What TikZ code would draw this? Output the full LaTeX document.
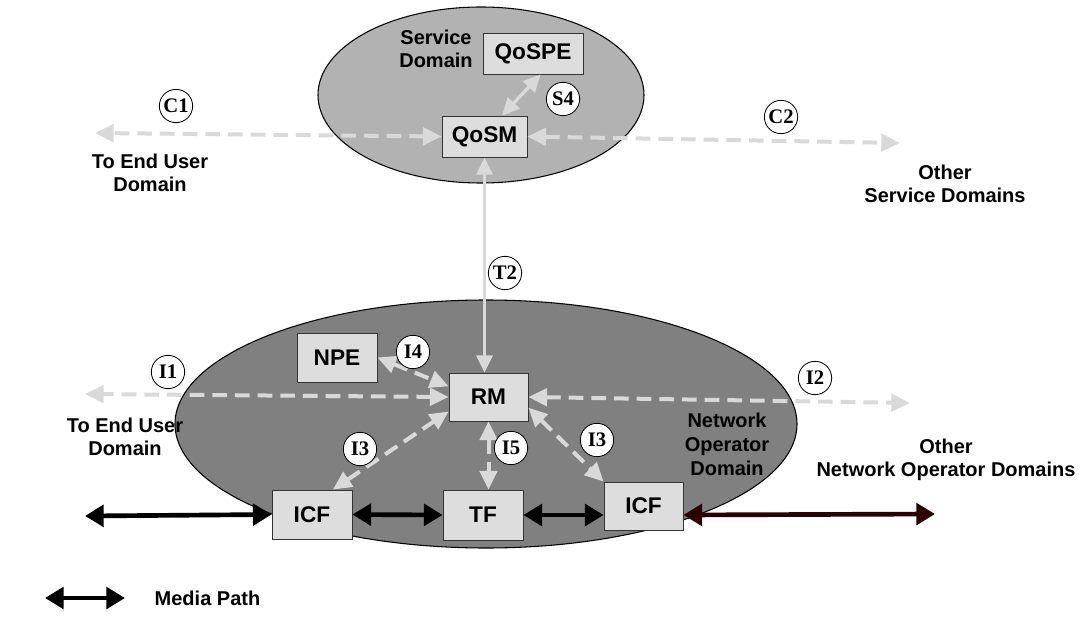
\documentclass[tikz,border=0pt]{standalone}
\usepackage{fontspec}
\setmainfont{Liberation Sans}
\newfontfamily\ifacefont{Liberation Serif}
\usetikzlibrary{shapes.geometric,arrows.meta}

\begin{document}
\begin{tikzpicture}[x=0.75pt,y=-0.75pt,
    dom/.style={ellipse, draw, line width=0.8pt, inner sep=0pt},
    fbox/.style={rectangle, draw=black!80, fill=gray!27, line width=0.6pt, inner sep=0pt,
      font=\fontsize{17}{19}\selectfont\bfseries},
    iface/.style={circle, draw, fill=white, line width=0.6pt, minimum size=25pt, inner sep=0pt,
      font=\ifacefont\fontsize{15.5}{15.5}\selectfont\bfseries},
    lbl/.style={align=center, font=\fontsize{15}{17}\selectfont\bfseries},
    sig/.style={draw=gray!30, line width=3pt, dash pattern=on 11pt off 6pt,
      {Triangle[length=14pt,width=13pt]}-{Triangle[length=14pt,width=13pt]}},
    solidsig/.style={draw=gray!30, line width=2.5pt,
      {Triangle[length=13pt,width=12pt]}-{Triangle[length=13pt,width=12pt]}},
    mpath/.style={line width=3.5pt,
      {Triangle[length=14pt,width=16pt]}-{Triangle[length=14pt,width=16pt]}}]

  \useasboundingbox (0,0) rectangle (1084,641);

  % domains
  \node[dom, fill=gray!60, minimum width=244.5pt, minimum height=132pt] (svcdom) at (481,95) {};
  \node[dom, fill=gray, minimum width=466.5pt, minimum height=186pt] (netdom) at (486,424) {};
  \node[lbl] (svclbl) at (436,49) {Service\\Domain};
  \node[lbl, font=\fontsize{15}{18}\selectfont\bfseries] (netlbl) at (727,444) {Network\\Operator\\Domain};

  % functional blocks
  \node[fbox, minimum width=75pt, minimum height=30.75pt] (qospe) at (533,53.5) {QoSPE};
  \node[fbox, minimum width=63.75pt, minimum height=30.75pt] (qosm) at (484.5,136.5) {QoSM};
  \node[fbox, minimum width=60pt, minimum height=36.75pt] (npe) at (337,357.5) {NPE};
  \node[fbox, minimum width=59.25pt, minimum height=36pt] (rm) at (488.5,397) {RM};
  \node[fbox, minimum width=60pt, minimum height=36.75pt] (icfa) at (312,514.5) {ICF};
  \node[fbox, minimum width=60pt, minimum height=37.5pt] (tf) at (483,515) {TF};
  \node[fbox, minimum width=59.25pt, minimum height=36pt] (icfb) at (643.5,506) {ICF};

  % outer labels
  \node[lbl] (euser1) at (150,173) {To End User\\Domain};
  \node[lbl] (othsvc) at (945,184) {Other\\Service Domains};
  \node[lbl] (euser2) at (125,437) {To End User\\Domain};
  \node[lbl] (othnet) at (946,460) {Other\\Network Operator Domains};

  \coordinate (c1end) at (95,133);
  \coordinate (c2end) at (900,143);
  \coordinate (i1end) at (85,394);
  \coordinate (i2end) at (910,403);
  \coordinate (mleft) at (85,516);
  \coordinate (mright) at (935,514);
  \coordinate (legl) at (45,598);
  \coordinate (legr) at (125,598);

  % signalling
  \draw[sig] (qosm.west) -- (c1end);
  \draw[sig] (qosm.east) -- (c2end);
  \draw[sig] (rm.west) -- (i1end);
  \draw[sig] (rm.east) -- (i2end);
  \draw[sig] (npe.east) -- (rm.165);
  \draw[sig] (icfa.50) -- (rm.200);
  \draw[sig] (rm.-15) -- (icfb.north west);
  \draw[sig] (rm.south) -- (rm.south |- tf.north);
  \draw[solidsig] (qospe.-70) -- (qosm.50);
  \draw[solidsig] (qosm.south) -- (qosm.south |- rm.north);

  % media path
  \draw[mpath] (mleft) -- (icfa.west);
  \draw[mpath] (icfa.east) -- (tf.west);
  \draw[mpath] (tf.east) -- (tf.east -| icfb.west);
  \draw[mpath, draw={rgb,1:red,0.17;green,0;blue,0}, fill=black] (tf.east -| icfb.east) -- (mright);

  % interfaces
  \node[iface] (c1) at (176,106) {C1};
  \node[iface] (c2) at (781,117) {C2};
  \node[iface] (s4) at (563,99) {S4};
  \node[iface] (t2) at (505,273) {T2};
  \node[iface] (i1) at (168,372) {I1};
  \node[iface] (i2) at (815,378) {I2};
  \node[iface] (i4) at (413,352) {I4};
  \node[iface] (i3a) at (360,449) {I3};
  \node[iface] (i5) at (511,448) {I5};
  \node[iface] (i3b) at (597,440) {I3};

  % legend
  \draw[mpath] (legl) -- (legr);
  \node[lbl, anchor=west] (legtxt) at (150,598) {Media Path};
\end{tikzpicture}
\end{document}
